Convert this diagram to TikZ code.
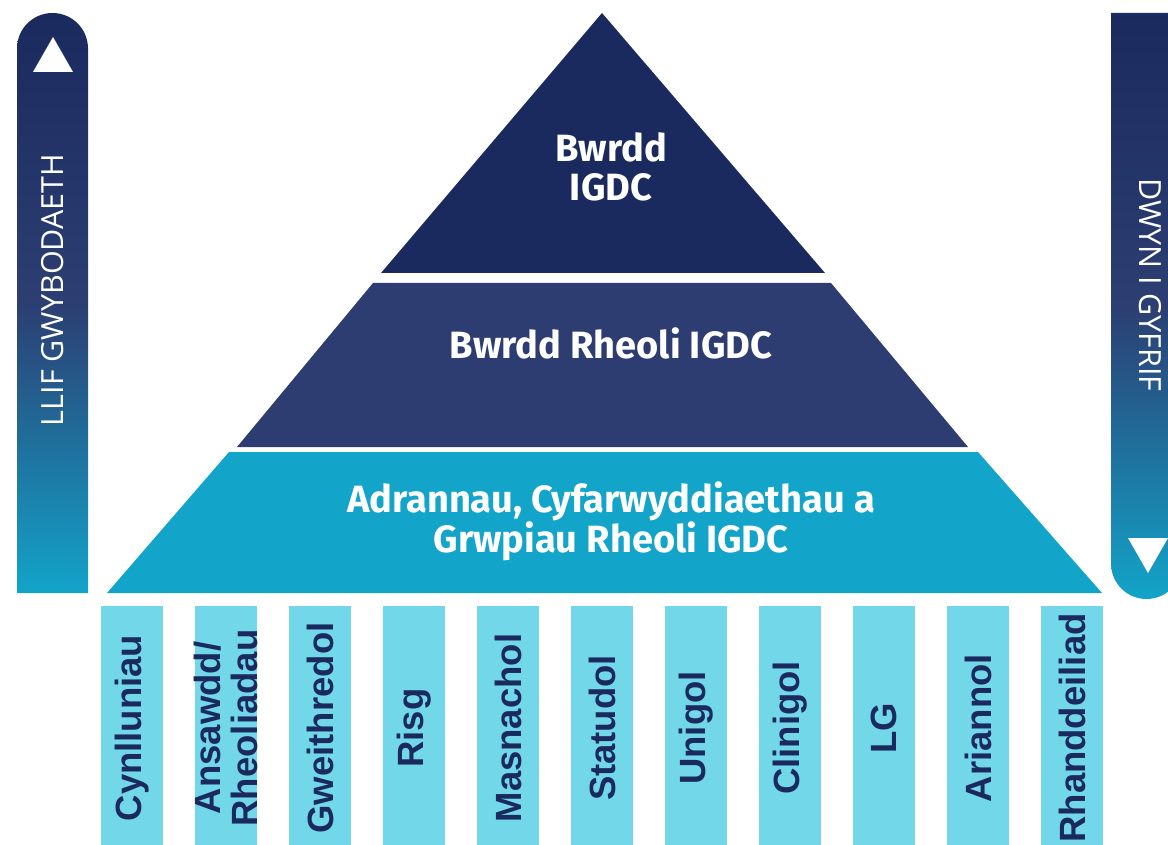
\documentclass[tikz,border=0pt]{standalone}
\usepackage{fontspec}
\newfontfamily\pyrfont{Fira Sans}
\newfontfamily\boxfont{Liberation Sans}
\newfontfamily\sidefont{Open Sans}
\definecolor{navydark}{RGB}{27, 42, 94}
\definecolor{navymid}{RGB}{46, 61, 113}
\definecolor{barmid}{RGB}{44, 62, 114}
\definecolor{tealband}{RGB}{19, 164, 201}
\definecolor{lightcyan}{RGB}{114, 216, 233}

\begin{document}
\begin{tikzpicture}[x=1pt,y=-1pt,
    bandtext/.style={text=white,font=\pyrfont\bfseries\fontsize{38}{39}\selectfont,align=center},
    boxtext/.style={text=navydark,font=\boxfont\bfseries\fontsize{36.5}{37}\selectfont,align=center,rotate=90},
    sidetext/.style={text=white,font=\sidefont\fontsize{30.5}{32}\selectfont}]
    \useasboundingbox (0,0) rectangle (1168,845);
    \clip (0,0) rectangle (1168,845);
    % side bars
    \shade[top color=navydark,bottom color=tealband,middle color=barmid]
        (17,593) -- (17,48.5) arc (180:0:35.5pt) -- (88,593) -- cycle;
    \shade[top color=navydark,bottom color=tealband,middle color=barmid]
        (1111,13) -- (1182,13) -- (1182,563.5) arc (0:-180:35.5pt) -- cycle;
    \fill[white] (53,37) -- (73,72) -- (33,72) -- cycle;
    \fill[white] (1128,538) -- (1168,538) -- (1148,573) -- cycle;
    \node[sidetext,rotate=90] (flow) at (53,290) {LLIF GWYBODAETH};
    \node[sidetext,rotate=-90] (account) at (1150,285) {DWYN I GYFRIF};
    % pyramid
    \fill[navydark] (602,13) -- (825,273) -- (381,273) -- cycle;
    \fill[navymid] (373,283) -- (831,283) -- (968,447) -- (237,447) -- cycle;
    \fill[tealband] (229,452) -- (978,452) -- (1102,593) -- (107,593) -- cycle;
    \node[bandtext] (board) at (611,167) {Bwrdd\\IGDC};
    \node[bandtext] (mgmt) at (611,343) {Bwrdd Rheoli IGDC};
    \node[bandtext] (depts) at (611,521) {Adrannau, Cyfarwyddiaethau a\\Grwpiau Rheoli IGDC};
    % categories
    \foreach \name [count=\i from 0] in {Cynlluniau,{Ansawdd/\\Rheoliadau},Gweithredol,Risg,Masnachol,Statudol,Unigol,Clinigol,LG,Ariannol,Rhanddeiliad} {
        \pgfmathsetmacro{\cx}{132+94*\i}
        \fill[lightcyan] (\cx-31,606) rectangle (\cx+31,845);
        \node[boxtext] (cat\i) at (\cx,728) {\name};
    }
\end{tikzpicture}
\end{document}
